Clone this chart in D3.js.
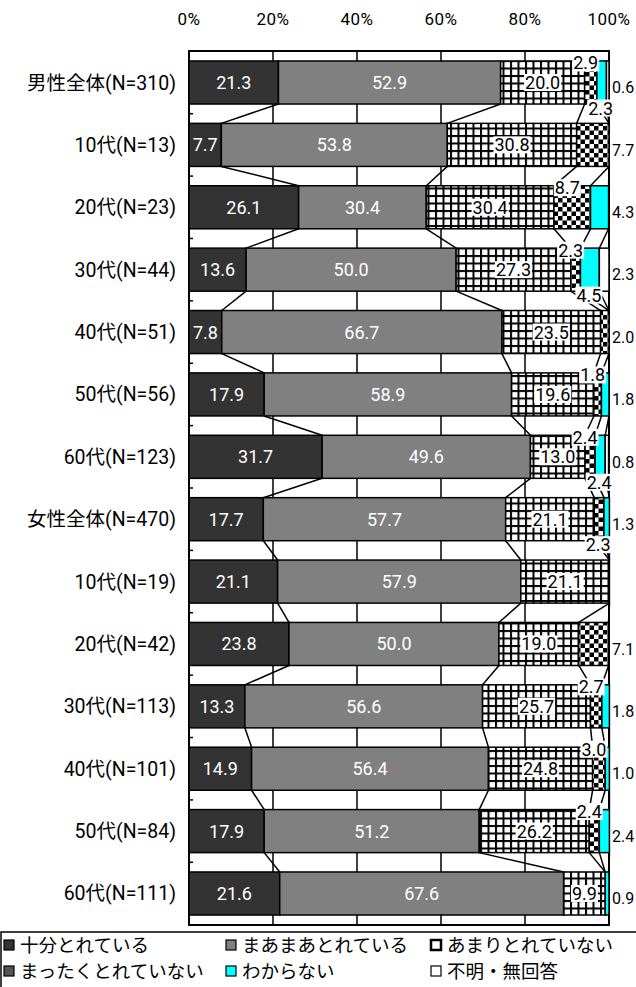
<!DOCTYPE html>
<html>
<head>
<meta charset="utf-8">
<script src="https://cdn.jsdelivr.net/npm/d3@7"></script>
<style>
  body { margin: 0; background: #fff; }
  svg { display: block; font-family: Roboto, "Noto Sans CJK JP", sans-serif; }
</style>
</head>
<body>
<div id="chart"></div>
<script>
const CATEGORIES = [
  '男性全体(N=310)', '10代(N=13)', '20代(N=23)', '30代(N=44)', '40代(N=51)',
  '50代(N=56)', '60代(N=123)', '女性全体(N=470)', '10代(N=19)', '20代(N=42)',
  '30代(N=113)', '40代(N=101)', '50代(N=84)', '60代(N=111)'
];
const SERIES = ['十分とれている', 'まあまあとれている', 'あまりとれていない', 'まったくとれていない', 'わからない', '不明・無回答'];

const JUUBUN   = [21.3, 7.7, 26.1, 13.6, 7.8, 17.9, 31.7, 17.7, 21.1, 23.8, 13.3, 14.9, 17.9, 21.6];
const MAAMAA   = [52.9, 53.8, 30.4, 50.0, 66.7, 58.9, 49.6, 57.7, 57.9, 50.0, 56.6, 56.4, 51.2, 67.6];
const AMARI    = [20.0, 30.8, 30.4, 27.3, 23.5, 19.6, 13.0, 21.1, 21.1, 19.0, 25.7, 24.8, 26.2, 9.9];
const MATTAKU  = [2.9, 7.7, 8.7, 2.3, 2.0, 1.8, 2.4, 2.3, 0, 7.1, 2.7, 3.0, 2.4, 0];
const WAKARANAI = [2.3, 0, 4.3, 4.5, 0, 1.8, 2.4, 1.3, 0, 0, 1.8, 1.0, 2.4, 0.9];
const FUMEI    = [0.6, 0, 0, 2.3, 0, 0, 0.8, 0, 0, 0, 0, 0, 0, 0];

const X_TICKS = [0, 20, 40, 60, 80, 100];

const width = 636;
const height = 987;

const rows = CATEGORIES.map((c, i) => ({
  cat: c, s0: JUUBUN[i], s1: MAAMAA[i], s2: AMARI[i], s3: MATTAKU[i], s4: WAKARANAI[i], s5: FUMEI[i]
}));
const keys = ['s0', 's1', 's2', 's3', 's4', 's5'];
const stacked = d3.stack().keys(keys)(rows);

const svg = d3.select('#chart').append('svg')
  .attr('width', width)
  .attr('height', height);

const defs = svg.append('defs');
// crosshatch for あまりとれていない
const grid = defs.append('pattern').attr('id', 'grid')
  .attr('patternUnits', 'userSpaceOnUse').attr('width', 7.5).attr('height', 7.5);
grid.append('rect').attr('width', 7.5).attr('height', 7.5).attr('fill', '#fff');
grid.append('rect').attr('width', 2).attr('height', 7.5).attr('fill', '#000');
grid.append('rect').attr('width', 7.5).attr('height', 2).attr('fill', '#000');
// checker for まったくとれていない
const checker = defs.append('pattern').attr('id', 'checker')
  .attr('patternUnits', 'userSpaceOnUse').attr('width', 9).attr('height', 9);
checker.append('rect').attr('width', 9).attr('height', 9).attr('fill', '#fff');
checker.append('rect').attr('width', 4.5).attr('height', 4.5).attr('fill', '#000');
checker.append('rect').attr('x', 4.5).attr('y', 4.5).attr('width', 4.5).attr('height', 4.5).attr('fill', '#000');

const FILLS = ['#333333', '#808080', 'url(#grid)', 'url(#checker)', '#00ffff', '#ffffff'];

const x = d3.scaleLinear().domain([0, 100]).range([189, 609]);
const y = d3.scaleBand().domain(CATEGORIES).range([51, 925])
  .paddingInner(0.31).paddingOuter(0.16);
const bh = y.bandwidth();

// plot frame + gridlines
svg.append('rect')
  .attr('x', x(0)).attr('y', 51)
  .attr('width', x(100) - x(0)).attr('height', 925 - 51)
  .attr('fill', '#fff').attr('stroke', '#000').attr('stroke-width', 2);

svg.append('g').selectAll('line')
  .data(X_TICKS.slice(1, -1))
  .join('line')
  .attr('x1', d => x(d)).attr('x2', d => x(d))
  .attr('y1', 51).attr('y2', 925)
  .attr('stroke', '#000').attr('stroke-width', 1.5);

// top axis labels
svg.append('g').selectAll('text')
  .data(X_TICKS)
  .join('text')
  .attr('x', d => x(d))
  .attr('y', 25)
  .attr('text-anchor', 'middle')
  .attr('font-size', 17)
  .attr('letter-spacing', 0.5)
  .text(d => d + '%');

// left category ticks (between bands)
svg.append('g').selectAll('line')
  .data(CATEGORIES.slice(1))
  .join('line')
  .attr('x1', x(0)).attr('x2', x(0) + 4)
  .attr('y1', d => y(d) - y.step() * y.paddingInner() / 2)
  .attr('y2', d => y(d) - y.step() * y.paddingInner() / 2)
  .attr('stroke', '#000').attr('stroke-width', 1.5);

// category labels
svg.append('g').selectAll('text')
  .data(CATEGORIES)
  .join('text')
  .attr('x', 176)
  .attr('y', d => y(d) + bh / 2 + 7)
  .attr('text-anchor', 'end')
  .attr('font-size', 19.5)
  .text(d => d);

// connector lines between consecutive bars
const connectors = [];
stacked.slice(0, 5).forEach(layer => {
  for (let i = 0; i < layer.length - 1; i++) {
    connectors.push({
      x1: layer[i][1], y1: CATEGORIES[i],
      x2: layer[i + 1][1], y2: CATEGORIES[i + 1]
    });
  }
});
svg.append('g').selectAll('line')
  .data(connectors)
  .join('line')
  .attr('x1', d => x(d.x1)).attr('y1', d => y(d.y1) + bh)
  .attr('x2', d => x(d.x2)).attr('y2', d => y(d.y2))
  .attr('stroke', '#000').attr('stroke-width', 1.5);

// bars
svg.append('g').selectAll('g')
  .data(stacked)
  .join('g')
  .attr('fill', (d, i) => FILLS[i])
  .selectAll('rect')
  .data(d => d.filter(p => p[1] - p[0] > 0))
  .join('rect')
  .attr('x', d => x(d[0]))
  .attr('y', d => y(d.data.cat))
  .attr('width', d => x(d[1]) - x(d[0]))
  .attr('height', bh)
  .attr('stroke', '#000')
  .attr('stroke-width', 1.5);

// value labels
const labels = [];
let prevBelow = [];
rows.forEach((r, i) => {
  let cum = 0;
  const segs = keys.map((k, j) => {
    const s = { j, v: r[k], a: cum, b: cum + r[k], cat: r.cat };
    cum += r[k];
    return s;
  }).filter(s => s.v > 0);
  const lastJ = segs[segs.length - 1].j;
  const below = [];
  let usedAbove = false;
  segs.forEach(s => {
    const cx = x((s.a + s.b) / 2);
    const top = y(s.cat);
    if (s.j < 2) {
      labels.push({ text: s.v.toFixed(1), x: cx, y: top + bh / 2, color: '#fff', box: false, anchor: 'middle' });
    } else if (s.j === 2 && s.v >= 9) {
      labels.push({ text: s.v.toFixed(1), x: cx, y: top + bh / 2, color: '#000', box: true, anchor: 'middle' });
    } else if (s.j === lastJ) {
      labels.push({ text: s.v.toFixed(1), x: x(100) + 3, y: top + bh / 2 + 5, color: '#000', box: false, anchor: 'start', size: 16 });
    } else {
      const lx = cx - 5;
      // go above unless that would hit a label hanging below the previous bar
      const clash = prevBelow.some(px => Math.abs(px - lx) < 26);
      if (!usedAbove && !clash) {
        labels.push({ text: s.v.toFixed(1), x: lx, y: top + 2, color: '#000', box: true, anchor: 'middle' });
        usedAbove = true;
      } else {
        labels.push({ text: s.v.toFixed(1), x: lx + 4, y: top + bh + 4, color: '#000', box: true, anchor: 'middle' });
        below.push(lx);
      }
    }
  });
  prevBelow = below;
});

const lg = svg.append('g');
const lbl = lg.selectAll('g').data(labels).join('g')
  .attr('transform', d => `translate(${d.x},${d.y})`);
lbl.append('text')
  .attr('text-anchor', d => d.anchor)
  .attr('dy', '0.36em')
  .attr('font-size', d => d.size || 18)
  .attr('fill', d => d.color)
  .text(d => d.text);
lbl.each(function (d) {
  if (!d.box) return;
  const g = d3.select(this);
  const bb = g.select('text').node().getBBox();
  g.insert('rect', 'text')
    .attr('x', bb.x - 1).attr('y', bb.y + 2)
    .attr('width', bb.width + 2).attr('height', bb.height - 4)
    .attr('fill', '#fff');
});

// legend
const legend = svg.append('g');
legend.append('rect')
  .attr('x', 1).attr('y', 932).attr('width', 640).attr('height', 60)
  .attr('fill', '#fff').attr('stroke', '#000').attr('stroke-width', 1.5);
const legendPos = [[4, 945], [226, 945], [431, 945], [4, 971], [226, 971], [431, 971]];
const li = legend.selectAll('g.item').data(SERIES).join('g')
  .attr('class', 'item')
  .attr('transform', (d, i) => `translate(${legendPos[i][0]},${legendPos[i][1]})`);
li.append('rect')
  .attr('x', 0).attr('y', -5).attr('width', 10).attr('height', 10)
  .attr('fill', (d, i) => i === 2 ? '#fff' : (i === 3 ? '#555' : FILLS[i]))
  .attr('stroke', '#000').attr('stroke-width', (d, i) => i === 2 ? 2.5 : 1.2);
li.append('text')
  .attr('x', 16).attr('dy', '0.36em')
  .attr('font-size', 18.5)
  .attr('font-family', '"Noto Sans CJK JP", sans-serif')
  .text(d => d);
</script>
</body>
</html>
